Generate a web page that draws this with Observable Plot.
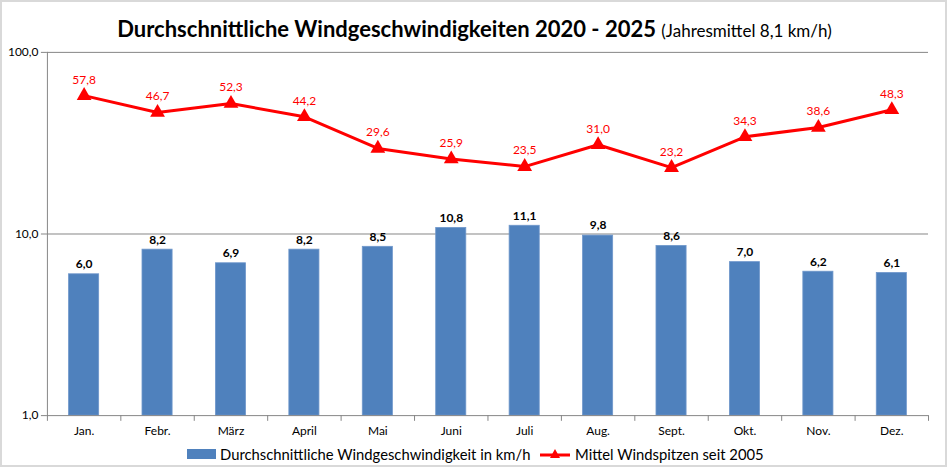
<!DOCTYPE html>
<html>
<head>
<meta charset="utf-8">
<script src="https://cdn.jsdelivr.net/npm/d3@7"></script>
<script src="https://cdn.jsdelivr.net/npm/@observablehq/plot@0.6"></script>
<style>
  html, body { margin: 0; padding: 0; background: #fff; }
  #wrap { position: relative; width: 947px; height: 467px; box-sizing: border-box; border: 2px solid #d9d9d9; overflow: hidden; font-family: Lato, "Open Sans", sans-serif; }
  #chart { position: absolute; left: -2px; top: -2px; }
  #title { position: absolute; left: 0; top: 13px; width: 945px; text-align: center; font-size: 22px; font-weight: bold; color: #000; white-space: nowrap; }
  #title span { font-weight: normal; font-size: 17px; }
  .leg { position: absolute; font-size: 14.8px; color: #000; white-space: nowrap; }
</style>
</head>
<body>
<div id="wrap">
  <div id="chart"></div>
  <div id="title">Durchschnittliche Windgeschwindigkeiten 2020 - 2025 <span>(Jahresmittel 8,1 km/h)</span></div>
  <svg style="position:absolute;left:183px;top:445px" width="32" height="12"><rect x="2" y="2" width="29" height="10" fill="#4f81bd"/></svg>
  <div class="leg" style="left:218px;top:443px">Durchschnittliche Windgeschwindigkeit in km/h</div>
  <svg style="position:absolute;left:536px;top:444px" width="36" height="16"><line x1="2" y1="9" x2="32" y2="9" stroke="#ff0000" stroke-width="3"/><path d="M17,3 L22,12 L12,12 Z" fill="#ff0000"/></svg>
  <div class="leg" style="left:573px;top:443px">Mittel Windspitzen seit 2005</div>
</div>
<script>
const months = ["Jan.", "Febr.", "März", "April", "Mai", "Juni", "Juli", "Aug.", "Sept.", "Okt.", "Nov.", "Dez."];
const avgWind = [6.0, 8.2, 6.9, 8.2, 8.5, 10.8, 11.1, 9.8, 8.6, 7.0, 6.2, 6.1];
const peakWind = [57.8, 46.7, 52.3, 44.2, 29.6, 25.9, 23.5, 31.0, 23.2, 34.3, 38.6, 48.3];
const yTicks = [1, 10, 100];

const fmt = d => d.toFixed(1).replace(".", ",");
const barRows = months.map((m, i) => ({m, v: avgWind[i]}));
const peakRows = months.map((m, i) => ({m, v: peakWind[i]}));
const gray = "#868686";
const mL = 47, mR = 17, W = 947;
const step = (W - mL - mR) / 12;

const chart = Plot.plot({
  width: W,
  height: 440,
  marginTop: 52,
  marginBottom: 24,
  marginLeft: mL,
  marginRight: mR,
  style: {fontFamily: "Lato, 'Open Sans', sans-serif", fontSize: "12px", color: "#000", background: "transparent"},
  x: {type: "band", domain: months, paddingInner: 0.59, paddingOuter: 0.295, round: false, label: null},
  y: {type: "log", domain: [1, 100], label: null},
  marks: [
    Plot.ruleY([10, 100], {stroke: gray, strokeWidth: 1}),
    Plot.barY(barRows, {x: "m", y1: 1, y2: "v", fill: "#4f81bd", stroke: "#6f97cb", strokeWidth: 0.8}),
    Plot.ruleY([1], {stroke: gray, strokeWidth: 1}),
    Plot.frame({anchor: "left", stroke: gray}),
    Plot.ruleX(months, {x: d => d, dx: -step / 2, y1: 1, y2: 0.93, stroke: gray}),
    Plot.ruleX([months[11]], {x: d => d, dx: step / 2, y1: 1, y2: 0.93, stroke: gray}),
    Plot.axisY({ticks: yTicks, tickFormat: fmt, tickSize: 6, tickPadding: 3, stroke: gray, fill: "#000", label: null, fontSize: 12}),
    Plot.axisX({tickSize: 0, tickPadding: 11, label: null, fill: "#000", fontSize: 12}),
    Plot.text(barRows, {x: "m", y: "v", text: d => fmt(d.v), dy: -10, fontWeight: "bold", fill: "#000", fontSize: 12}),
    Plot.line(peakRows, {x: "m", y: "v", stroke: "#ff0000", strokeWidth: 3}),
    Plot.dot(peakRows, {x: "m", y: "v", symbol: "triangle", fill: "#ff0000", r: 5.5}),
    Plot.text(peakRows, {x: "m", y: "v", text: d => fmt(d.v), dy: -16, fill: "#ff0000", fontSize: 12})
  ]
});
document.getElementById("chart").appendChild(chart);
</script>
</body>
</html>
